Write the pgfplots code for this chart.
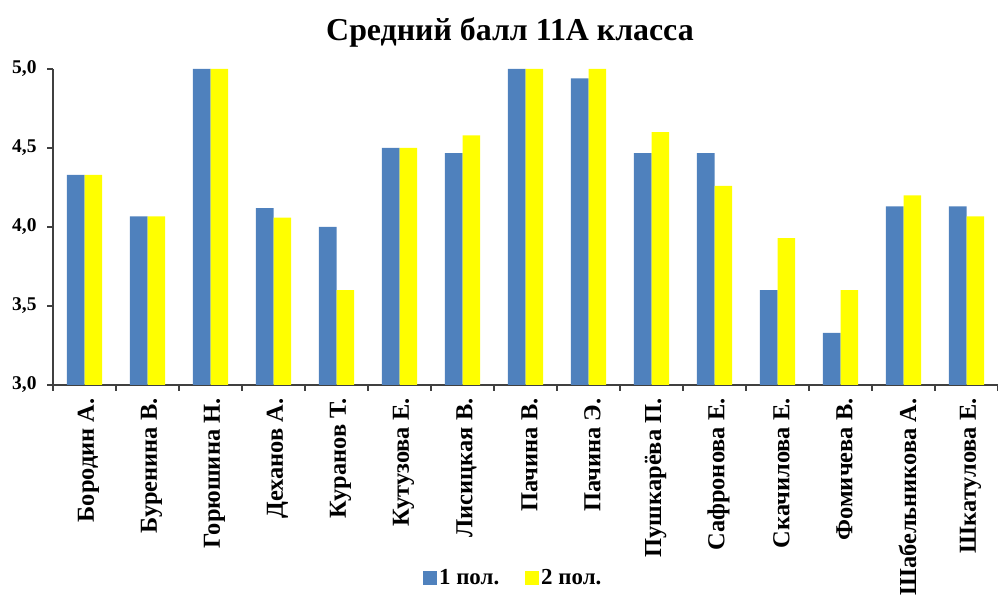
\documentclass[border=0pt]{standalone}
\usepackage{fontspec}
\setmainfont{Liberation Serif}
\usepackage{pgfplots}
\pgfplotsset{compat=1.18}
\definecolor{sblue}{HTML}{4F81BD}
\definecolor{syellow}{HTML}{FFFF00}
\definecolor{axgray}{HTML}{404040}
\begin{document}
\begin{tikzpicture}[x=1bp,y=1bp]
\path[use as bounding box] (0,0) rectangle (998,597);
\node[font=\fontsize{32}{35}\selectfont\bfseries] at (510,565) {Средний балл 11А класса};
\begin{axis}[
  at={(53bp,212bp)}, anchor=south west,
  scale only axis, width=945bp, height=316bp,
  ybar=0pt, bar width=17.7bp,
  xmin=-0.5, xmax=14.5, ymin=3, ymax=5,
  axis lines=left, axis line style={-, axgray, line width=1.3bp},
  xtick={0,...,14},
  xticklabels={Бородин А., Буренина В., Горюшина Н., Деханов А., Куранов Т., Кутузова Е., Лисицкая В., Пачина В., Пачина Э., Пушкарёва П., Сафронова Е., Скачилова Е., Фомичева В., Шабельникова А., Шкатулова Е.},
  xticklabel style={rotate=90, anchor=east, font=\fontsize{24.5}{26}\selectfont\bfseries, xshift=-4bp, yshift=-4bp},
  minor xtick={-0.5,0.5,...,14.5},
  x tick style={draw=none},
  minor x tick style={draw=axgray, line width=1.3bp},
  ytick={3,3.5,...,5},
  y tick style={axgray, line width=1.3bp},
  tick align=outside,
  major tick length=6bp, minor tick length=6bp,
  yticklabel style={xshift=-7bp, font=\fontsize{19.5}{21}\selectfont\bfseries, /pgf/number format/.cd, use comma, fixed, fixed zerofill, precision=1, assume math mode=true},
  legend columns=2,
  legend style={at={(0.487,-0.611)}, anchor=center, draw=none, font=\fontsize{23}{25}\selectfont\bfseries, /tikz/every even column/.append style={column sep=24bp}},
  legend image code/.code={\fill[#1] (0bp,-7bp) rectangle (14bp,7bp);},
  clip=false,
]
\addplot[fill=sblue, draw=none] coordinates {(0,4.33) (1,4.067) (2,5) (3,4.12) (4,4.0) (5,4.5) (6,4.467) (7,5) (8,4.94) (9,4.467) (10,4.467) (11,3.6) (12,3.33) (13,4.13) (14,4.13)};
\addplot[fill=syellow, draw=none] coordinates {(0,4.33) (1,4.067) (2,5) (3,4.06) (4,3.6) (5,4.5) (6,4.58) (7,5) (8,5) (9,4.6) (10,4.26) (11,3.93) (12,3.6) (13,4.2) (14,4.067)};
\legend{1 пол., 2 пол.}
\end{axis}
\end{tikzpicture}
\end{document}
